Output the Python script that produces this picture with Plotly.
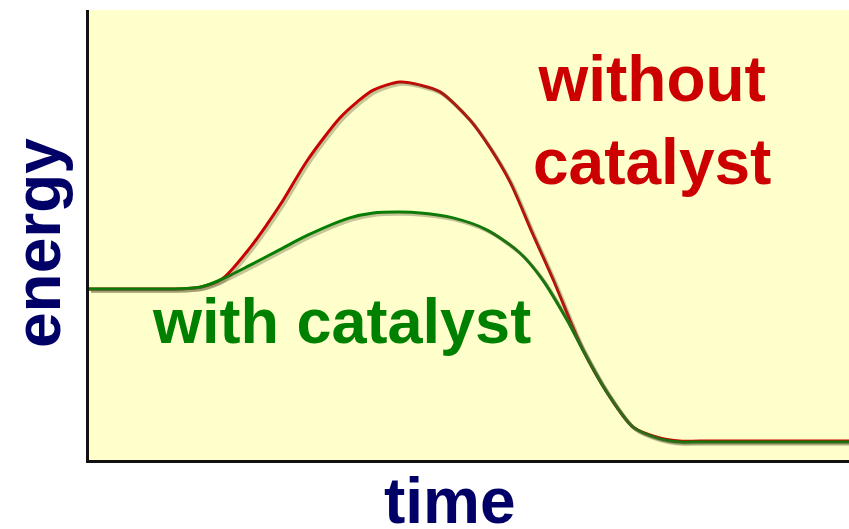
import plotly.graph_objects as go

# time (0-100) and energy (0-100) values
time_uncat = [0, 8.0, 10.7, 14.6, 17.5, 21.2, 23.4, 25.5, 28.7, 33.0, 35.3, 37.4, 40.9,
              43.6, 46.2, 50.1, 52.8, 55.4, 58.4, 61.1, 63.3, 65.0,
              68.2, 71.6, 75.1, 77.7, 80.4, 100]
energy_uncat = [38.0, 38.0, 38.0, 38.4, 40.2, 47.2, 52.3, 57.6, 66.5, 76.0, 79.6, 82.2, 84.0,
                83.3, 81.8, 75.6, 69.3, 61.8, 50.2, 40.0, 31.0, 24.4,
                14.9, 7.3, 4.9, 4.2, 4.2, 4.2]

time_cat = [0, 8.0, 10.7, 14.6, 17.5, 21.2, 25.5, 28.7, 34.3, 37.4, 40.9, 43.6, 47.9, 52.4,
            56.7, 59.7, 62.9, 65.0, 68.2, 71.6, 75.1, 77.7, 80.4, 100]
energy_cat = [38.0, 38.0, 38.0, 38.4, 40.2, 43.3, 47.1, 49.9, 53.8, 54.9, 55.1, 54.9, 53.8, 51.1,
              46.0, 40.0, 31.1, 24.4, 14.9, 7.3, 4.7, 4.0, 4.0, 4.0]

label_uncat = "without<br>catalyst"
label_cat = "with catalyst"
x_title = "time"
y_title = "energy"

RED = "#CC0000"
GREEN = "#008000"
NAVY = "#000066"
FONT = "Liberation Sans"

W, H = 849, 529
L, R, T, B = 89, 0, 10, 69
pw, ph = W - L - R, H - T - B

fig = go.Figure()

# shadows (drawn on offset axes)
for t, e in [(time_uncat, energy_uncat), (time_cat, energy_cat)]:
    fig.add_trace(go.Scatter(x=t, y=e, mode="lines", xaxis="x2", yaxis="y2",
                             line=dict(color="rgba(90,90,50,0.35)", width=3.5, shape="spline", smoothing=0.8),
                             hoverinfo="skip", showlegend=False))

fig.add_trace(go.Scatter(x=time_uncat, y=energy_uncat, mode="lines",
                         line=dict(color=RED, width=3, shape="spline", smoothing=0.8),
                         showlegend=False))
fig.add_trace(go.Scatter(x=time_cat, y=energy_cat, mode="lines",
                         line=dict(color=GREEN, width=3, shape="spline", smoothing=0.8),
                         showlegend=False))

dx = 2 * 100 / pw
dy = 2 * 100 / ph

def px(xp):
    return (xp - L) / pw

def py(yp):
    return (H - B - yp) / ph

fig.update_layout(
    width=W, height=H,
    margin=dict(l=L, r=R, t=T, b=B),
    paper_bgcolor="white",
    plot_bgcolor="#FFFFCC",
    xaxis=dict(range=[0, 100], showgrid=False, zeroline=False, showticklabels=False,
               ticks="", showline=True, linecolor="#111111", linewidth=3),
    yaxis=dict(range=[0, 100], showgrid=False, zeroline=False, showticklabels=False,
               ticks="", showline=True, linecolor="#111111", linewidth=3),
    xaxis2=dict(range=[-dx, 100 - dx], overlaying="x", visible=False),
    yaxis2=dict(range=[dy, 100 + dy], overlaying="y", visible=False),
    annotations=[
        dict(text=label_uncat, xref="paper", yref="paper", x=px(652), y=py(120),
             xanchor="center", yanchor="middle", showarrow=False, align="center",
             font=dict(family=FONT, size=64, color=RED, weight="bold")),
        dict(text=label_cat, xref="paper", yref="paper", x=px(341), y=py(321),
             xanchor="center", yanchor="middle", showarrow=False,
             font=dict(family=FONT, size=63, color=GREEN, weight="bold")),
        dict(text=x_title, xref="paper", yref="paper", x=px(450), y=py(501),
             xanchor="center", yanchor="middle", showarrow=False,
             font=dict(family=FONT, size=64, color=NAVY, weight="bold")),
        dict(text=y_title, xref="paper", yref="paper", x=px(38), y=py(243),
             xanchor="center", yanchor="middle", showarrow=False, textangle=-90,
             font=dict(family=FONT, size=64, color=NAVY, weight="bold")),
    ],
)

fig.write_html("out.html", config={"displayModeBar": False},
               post_script="document.body.style.margin='0';document.body.style.overflow='hidden';")
